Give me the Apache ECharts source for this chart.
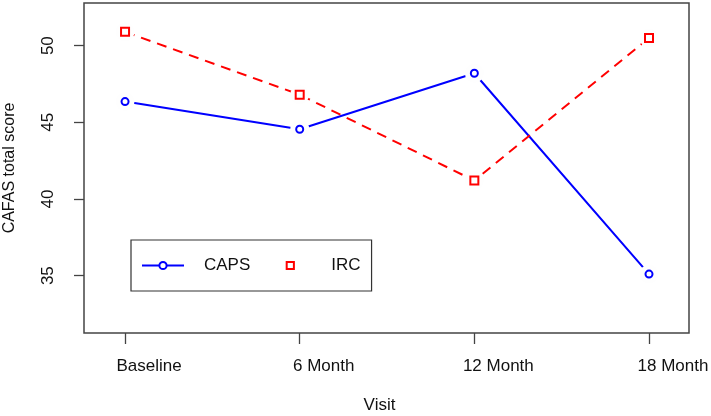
<!DOCTYPE html>
<html>
<head>
<meta charset="utf-8">
<script src="https://cdn.jsdelivr.net/npm/echarts@6/dist/echarts.min.js"></script>
<style>
html,body{margin:0;padding:0;background:#fff;}
#c{width:711px;height:416px;}
</style>
</head>
<body>
<div id="c"></div>
<script>
var visits = ['Baseline', '6 Month', '12 Month', '18 Month'];
var capsValues = [46.35, 44.55, 48.2, 35.1];
var ircValues = [50.9, 46.8, 41.2, 50.5];
var yTicks = [35, 40, 45, 50];

function toPoints(vals) {
  return vals.map(function (v, i) { return [i + 1, v]; });
}
var xTicks = visits.map(function (v, i) { return i + 1; });

var FONT = 'Liberation Sans, Arial, sans-serif';
var BLUE = '#0000ff';
var RED = '#ff0000';
var GAP = 'rgb(254,254,254)';

var chart = echarts.init(document.getElementById('c'), null, {renderer: 'canvas'});
chart.setOption({
  animation: false,
  backgroundColor: '#ffffff',
  grid: {
    left: 84, right: 22, top: 3, bottom: 83,
    outerBoundsMode: 'none', containLabel: false,
    show: true, borderColor: '#444', borderWidth: 1.5, backgroundColor: 'transparent'
  },
  legend: {
    data: ['CAPS', {name: 'IRC', lineStyle: {opacity: 0}}],
    left: 131, top: 240,
    orient: 'horizontal',
    borderColor: '#333', borderWidth: 1.2,
    padding: [17, 11, 17, 10],
    itemWidth: 42, itemHeight: 9,
    itemGap: 18,
    textStyle: {fontFamily: FONT, fontSize: 17, color: '#111', padding: [0, 0, 0, 15]}
  },
  xAxis: {
    type: 'value',
    min: 0.765, max: 4.229,
    name: 'Visit',
    nameLocation: 'middle',
    nameGap: 64,
    nameTextStyle: {fontFamily: FONT, fontSize: 17, color: '#111', padding: [0, 14, 0, 0]},
    axisLine: {show: false},
    axisTick: {show: true, customValues: xTicks, length: 11, lineStyle: {color: '#444', width: 1.3}},
    axisLabel: {
      customValues: xTicks,
      margin: 25,
      fontFamily: FONT, fontSize: 17, color: '#111',
      padding: [0, 0, 0, 48],
      formatter: function (v) { return visits[Math.round(v) - 1] || ''; }
    },
    splitLine: {show: false}
  },
  yAxis: {
    type: 'value',
    min: 31.26, max: 52.78,
    name: 'CAFAS total score',
    nameLocation: 'middle',
    nameGap: 66,
    nameRotate: 90,
    nameTextStyle: {fontFamily: FONT, fontSize: 16, color: '#111'},
    axisLine: {show: false},
    axisTick: {show: true, customValues: yTicks, length: 10, lineStyle: {color: '#444', width: 1.3}},
    axisLabel: {
      customValues: yTicks,
      rotate: 90,
      margin: 27,
      fontFamily: FONT, fontSize: 17, color: '#111'
    },
    splitLine: {show: false}
  },
  series: [
    {
      name: 'CAPS', type: 'line', z: 1,
      data: toPoints(capsValues),
      symbol: 'emptyCircle', symbolSize: 7,
      lineStyle: {color: BLUE, width: 2},
      itemStyle: {color: BLUE, borderColor: BLUE, borderWidth: 2}
    },
    {
      name: 'IRC', type: 'line', z: 1,
      data: toPoints(ircValues),
      symbol: 'emptyRect', symbolSize: 8,
      lineStyle: {color: RED, width: 2, type: [10, 7]},
      itemStyle: {color: RED, borderColor: RED, borderWidth: 2}
    },
    {
      name: 'gapA', type: 'scatter', z: 5,
      data: toPoints(capsValues),
      symbol: 'circle', symbolSize: 19,
      itemStyle: {color: GAP, opacity: 1}
    },
    {
      name: 'gapB', type: 'scatter', z: 5,
      data: toPoints(ircValues),
      symbol: 'circle', symbolSize: 19,
      itemStyle: {color: GAP, opacity: 1}
    },
    {
      name: 'ptsA', type: 'scatter', z: 6,
      data: toPoints(capsValues),
      symbol: 'emptyCircle', symbolSize: 7,
      itemStyle: {color: BLUE, borderColor: BLUE, borderWidth: 2, opacity: 1}
    },
    {
      name: 'ptsB', type: 'scatter', z: 6,
      data: toPoints(ircValues),
      symbol: 'emptyRect', symbolSize: 8,
      itemStyle: {color: RED, borderColor: RED, borderWidth: 2, opacity: 1}
    }
  ]
});
</script>
</body>
</html>
